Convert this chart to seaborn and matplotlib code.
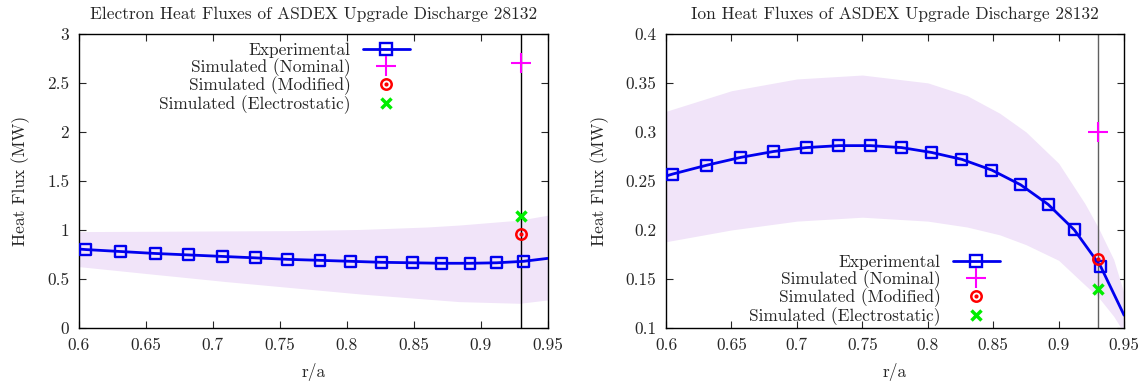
import matplotlib
matplotlib.use("Agg")
import matplotlib.pyplot as plt
from matplotlib.lines import Line2D
import seaborn as sns
import pandas as pd

# ---- data ----
r_pts = [0.605, 0.631, 0.657, 0.682, 0.707, 0.732, 0.756, 0.780, 0.803,
         0.826, 0.849, 0.871, 0.892, 0.912, 0.932]
e_pts = [0.80, 0.78, 0.76, 0.745, 0.73, 0.715, 0.70, 0.69, 0.68,
         0.67, 0.665, 0.66, 0.66, 0.665, 0.68]
i_pts = [0.257, 0.266, 0.274, 0.280, 0.284, 0.286, 0.286, 0.284, 0.279,
         0.272, 0.261, 0.246, 0.226, 0.200, 0.163]
r_ends = [0.60, 0.95]
e_ends = [0.805, 0.71]
i_ends = [0.255, 0.113]

e_band_r = [0.60, 0.65, 0.71, 0.76, 0.81, 0.86, 0.884, 0.929, 0.95]
e_band_hi = [0.983, 0.986, 0.99, 0.993, 1.005, 1.03, 1.05, 1.10, 1.15]
e_band_lo = [0.626, 0.556, 0.473, 0.41, 0.347, 0.294, 0.269, 0.252, 0.286]

i_band_r = [0.60, 0.65, 0.70, 0.75, 0.80, 0.83, 0.855, 0.875, 0.90, 0.92,
            0.93, 0.942, 0.95]
i_band_hi = [0.321, 0.342, 0.354, 0.358, 0.350, 0.337, 0.319, 0.300, 0.268,
             0.227, 0.203, 0.170, 0.135]
i_band_lo = [0.188, 0.200, 0.209, 0.213, 0.209, 0.203, 0.195, 0.185, 0.169,
             0.144, 0.132, 0.112, 0.095]

r_sim = 0.93
e_sim = {"Nominal": 2.70, "Modified": 0.96, "Electrostatic": 1.14}
i_sim = {"Nominal": 0.300, "Modified": 0.170, "Electrostatic": 0.140}

titles = ["Electron Heat Fluxes of ASDEX Upgrade Discharge 28132",
          "Ion Heat Fluxes of ASDEX Upgrade Discharge 28132"]
legend_labels = ["Experimental", "Simulated (Nominal)", "Simulated (Modified)",
                 "Simulated (Electrostatic)"]
x_ticks = [0.6, 0.65, 0.7, 0.75, 0.8, 0.85, 0.9, 0.95]
e_yticks = [0, 0.5, 1, 1.5, 2, 2.5, 3]
i_yticks = [0.1, 0.15, 0.2, 0.25, 0.3, 0.35, 0.4]

# ---- style ----
sns.set_style("ticks")
plt.rcParams["font.family"] = ["cmr10", "DejaVu Serif"]
plt.rcParams["mathtext.fontset"] = "cm"
plt.rcParams["axes.formatter.use_mathtext"] = True
FS = 12.5
plt.rcParams["font.size"] = FS

BLUE = "#0000ee"
BAND = "#f1e4f9"
MAG = "#ff00ff"
RED = "#ff0000"
GRN = "#00ee00"

fig = plt.figure(figsize=(11.46, 3.87), dpi=100)
ax1 = fig.add_axes([0.0689, 0.1525, 0.409, 0.760])
ax2 = fig.add_axes([0.5812, 0.1525, 0.3997, 0.760])


def panel(ax, pts, endv, br, bhi, blo, sim, yticks, ylim, title, vcol,
          leg_loc, leg_anchor):
    ax.fill_between(br, blo, bhi, color=BAND, lw=0, zorder=1)
    df_line = pd.DataFrame({"r": [r_ends[0]] + r_pts + [r_ends[1]],
                            "q": [endv[0]] + pts + [endv[1]]})
    sns.lineplot(data=df_line, x="r", y="q", ax=ax, color=BLUE, lw=2,
                 sort=False, zorder=3)
    df_pts = pd.DataFrame({"r": r_pts, "q": pts})
    sns.scatterplot(data=df_pts, x="r", y="q", ax=ax, marker="s", s=62,
                    facecolor="none", edgecolor=BLUE, linewidth=1.7, zorder=4)
    ax.axvline(r_sim, color=vcol, lw=1, zorder=2)
    ax.plot([r_sim], [sim["Nominal"]], marker="+", ms=14, mew=1.5,
            color=MAG, ls="none", zorder=5)
    ax.plot([r_sim], [sim["Modified"]], marker="o", ms=7.5, mew=1.8,
            mfc="none", mec=RED, ls="none", zorder=5)
    ax.plot([r_sim], [sim["Modified"]], marker="o", ms=2, color=RED,
            ls="none", zorder=5)
    ax.plot([r_sim], [sim["Electrostatic"]], marker="x", ms=7, mew=2.5,
            color=GRN, ls="none", zorder=5)

    ax.set_xlim(0.6, 0.95)
    ax.set_ylim(*ylim)
    ax.set_xticks(x_ticks)
    ax.set_xticklabels([f"{t:g}" for t in x_ticks])
    ax.set_yticks(yticks)
    ax.set_yticklabels([f"{t:g}" for t in yticks])
    ax.tick_params(direction="in", top=True, right=True, length=5, width=0.8,
                   labelsize=FS, pad=7)
    for s in ax.spines.values():
        s.set_visible(True)
        s.set_linewidth(1)
        s.set_color("black")
    ax.set_xlabel("r/a", fontsize=FS, labelpad=7)
    ax.set_ylabel("Heat Flux (MW)", fontsize=FS, labelpad=12)
    ax.set_title(title, fontsize=FS, pad=11)

    handles = [
        Line2D([], [], color=BLUE, lw=2, marker="s", ms=8, mfc="none", mew=1.7),
        Line2D([], [], color=MAG, ls="none", marker="+", ms=14, mew=1.5),
        (Line2D([], [], color=RED, ls="none", marker="o", ms=7.5, mfc="none", mew=1.8),
         Line2D([], [], color=RED, ls="none", marker="o", ms=2)),
        Line2D([], [], color=GRN, ls="none", marker="x", ms=7, mew=2.5),
    ]
    ax.legend(handles, legend_labels, loc=leg_loc, bbox_to_anchor=leg_anchor,
              frameon=False, markerfirst=False, handlelength=2.7,
              labelspacing=0.0, borderpad=0.2, handletextpad=0.7,
              fontsize=FS)


panel(ax1, e_pts, e_ends, e_band_r, e_band_hi, e_band_lo, e_sim, e_yticks,
      (0, 3), titles[0], "black", "upper right", (0.732, 1.012))
panel(ax2, i_pts, i_ends, i_band_r, i_band_hi, i_band_lo, i_sim, i_yticks,
      (0.1, 0.4), titles[1], "#606060", "lower right", (0.755, -0.035))

fig.savefig("out.png", dpi=100)
